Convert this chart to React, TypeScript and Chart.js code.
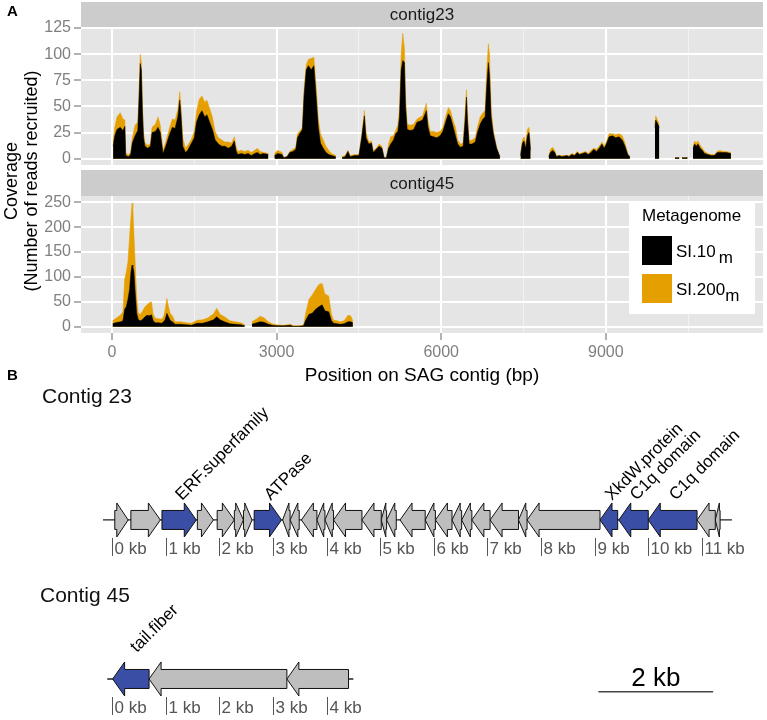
import React, { useEffect, useRef } from "react";
import { Chart, registerables } from "chart.js";

Chart.register(...registerables);

const FONT = "'Liberation Sans', Arial, Helvetica, sans-serif";
const PAGE_W = 767;
const PAGE_H = 720;

// ---------------- Panel A: coverage (bp positions, reads recruited) ----------------
// SI.200m values are stacked on top of SI.10m (stacked area chart). null = no coverage.
const c23Pos = [
  20, 50, 90, 150, 200, 235, 250, 300, 340, 370, 420, 470, 495, 515, 535, 555, 575, 600, 650, 700,
  730, 790, 840, 880, 930, 980, 1040, 1100, 1150, 1200, 1235, 1260, 1290, 1340, 1380, 1440, 1500, 1540, 1590, 1640,
  1690, 1730, 1780, 1830, 1880, 1940, 2000, 2060, 2120, 2180, 2230, 2260, 2290, 2360, 2420, 2480, 2540, 2600, 2650, 2700,
  2760, 2850, 2900,
  2960, 3020, 3100, 3130, 3190, 3240, 3300, 3350, 3380, 3420, 3470, 3500, 3540, 3580, 3630, 3680, 3720, 3760, 3800, 3850,
  3900, 3950, 4000, 4080, 4140,
  4190, 4250, 4300, 4340, 4420, 4500, 4550, 4600, 4630, 4680, 4730, 4760, 4800, 4870, 4920, 4960, 5000,
  5040, 5080, 5130, 5170, 5210, 5240, 5270, 5300, 5330, 5350, 5380, 5440, 5500, 5560, 5620, 5660, 5700, 5730, 5760, 5800,
  5860, 5920, 5980, 6030, 6080, 6130, 6170, 6220, 6260, 6300, 6350, 6400, 6440, 6460, 6480, 6510, 6560, 6620, 6660, 6710,
  6760, 6800, 6830, 6860, 6880, 6910, 6950, 7010, 7070, 7200,
  7445, 7480, 7510, 7540, 7570, 7600, 7630, 7800,
  7960, 7990, 8030, 8070, 8100, 8150, 8200, 8290, 8330, 8380, 8430, 8480, 8520, 8580, 8630, 8680, 8730, 8780, 8830, 8880,
  8930, 8970, 9010, 9060, 9120, 9180, 9240, 9300, 9350, 9400, 9440, 9600,
  9895, 9910, 9950, 9975, 10100,
  10260, 10340, 10365, 10390, 10490, 10540,
  10590, 10620, 10650, 10680, 10720, 10760, 10800, 10860, 10920, 10980, 11030, 11080, 11130, 11190, 11280,
];
const c23SI10 = [
  12, 22, 28, 30, 27, 31, 3, 2, 4, 15, 22, 27, 60, 91, 85, 45, 20, 12, 10, 12,
  25, 26, 30, 25, 5, 12, 22, 30, 29, 40, 56, 40, 12, 6, 8, 14, 20, 35, 42, 46,
  40, 42, 35, 28, 18, 14, 12, 12, 10, 12, 17, 8, 4, 5, 4, 5, 3, 5, 6, 4,
  5, 4, null,
  3, 5, 4, 1, 2, 6, 7, 9, 20, 24, 28, 60, 85, 89, 85, 89, 60, 30, 15, 10,
  6, 4, 3, 2, null,
  1, 2, 7, 2, 3, 3, 20, 41, 20, 14, 15, 6, 8, 12, 10, 1, 1,
  10, 14, 18, 24, 26, 40, 85, 94, 92, 50, 28, 27, 28, 35, 36, 37, 42, 46, 30, 22,
  21, 20, 22, 26, 35, 43, 40, 30, 22, 14, 11, 12, 40, 59, 35, 14, 14, 16, 25, 33,
  38, 40, 70, 92, 80, 40, 24, 10, 2, null,
  3, 15, 17, 10, 22, 25, 8, null,
  2, 6, 8, 6, 2, 3, 2, 3, 2, 4, 3, 6, 4, 5, 6, 4, 6, 9, 7, 10,
  14, 10, 14, 21, 22, 20, 21, 18, 12, 4, 2, null,
  30, 37, 33, 30, null,
  1, 1, null, 1, 1, null,
  10, 14, 12, 14, 10, 8, 5, 4, 3, 3, 6, 6, 6, 6, 5,
];
const c23SI200 = [
  4, 8, 12, 14, 11, 6, 2, 2, 2, 5, 10, 8, 8, 9, 7, 7, 6, 3, 3, 2,
  5, 7, 10, 7, 3, 4, 6, 8, 8, 7, 8, 8, 8, 4, 5, 4, 6, 10, 15, 14,
  14, 14, 13, 12, 8, 6, 6, 4, 6, 3, 4, 4, 3, 3, 3, 3, 3, 3, 4, 3,
  1, 1, null,
  2, 3, 2, 0, 0, 1, 2, 2, 4, 2, 2, 6, 5, 6, 11, 8, 10, 8, 9, 8,
  6, 4, 2, 1, null,
  1, 1, 1, 1, 1, 1, 2, 5, 5, 2, 2, 2, 1, 2, 2, 0, 0,
  4, 7, 4, 3, 6, 8, 15, 26, 13, 10, 5, 5, 5, 3, 4, 4, 6, 7, 6, 4,
  5, 5, 4, 4, 5, 6, 6, 6, 8, 4, 3, 3, 8, 7, 10, 3, 4, 4, 5, 7,
  6, 6, 15, 18, 20, 8, 3, 1, 0, null,
  0, 3, 4, 4, 6, 5, 2, null,
  0, 3, 3, 2, 1, 0, 1, 0, 1, 1, 1, 1, 1, 1, 1, 1, 2, 1, 2, 2,
  2, 2, 2, 3, 2, 3, 3, 4, 3, 1, 0, null,
  3, 4, 3, 3, null,
  0, 0, null, 0, 0, null,
  2, 3, 3, 3, 3, 2, 2, 1, 1, 1, 1, 2, 1, 1, 1,
];

const c45Pos = [
  10, 60, 110, 160, 200, 230, 260, 290, 320, 345, 365, 380, 400, 420, 450, 480, 520, 560, 600, 640,
  680, 720, 750, 790, 850, 900, 940, 970, 1000, 1030, 1060, 1100, 1150, 1250, 1360, 1450, 1550, 1650, 1750, 1850,
  1910, 1970, 2050, 2150, 2250, 2350, 2420, 2480,
  2550, 2640, 2700, 2770, 2850, 2920, 3000, 3130, 3250, 3300, 3400, 3490, 3530, 3590, 3650, 3710, 3770, 3830, 3880, 3950,
  4000, 4040, 4100, 4160, 4230, 4300, 4350, 4390,
];
const c45SI10 = [
  6, 8, 9, 10, 12, 35, 40, 55, 75, 110, 124, 121, 110, 74, 27, 14, 12, 15, 20, 23,
  22, 24, 12, 8, 8, 7, 10, 15, 27, 20, 13, 10, 5, 5, 4, 3, 7, 7, 10, 14,
  20, 14, 10, 6, 5, 4, 2, null,
  5, 8, 10, 9, 5, 3, 2, 2, 3, 1, 1, 2, 13, 25, 27, 35, 40, 44, 32, 30,
  12, 7, 6, 5, 6, 10, 10, 8,
];
const c45SI200 = [
  6, 8, 11, 14, 18, 60, 70, 75, 105, 110, 124, 119, 75, 60, 33, 13, 13, 17, 20, 21,
  26, 26, 13, 9, 8, 8, 10, 20, 30, 20, 14, 12, 5, 5, 4, 4, 6, 7, 8, 12,
  17, 11, 10, 6, 5, 4, 2, null,
  5, 8, 11, 9, 5, 3, 2, 1, 2, 1, 1, 1, 14, 30, 37, 40, 45, 43, 34, 32,
  13, 6, 6, 5, 6, 13, 12, 4,
];

const xTicks = [0, 1500, 3000, 4500, 6000, 7500, 9000, 10500];
const c23YTicks = [0, 12.5, 25, 37.5, 50, 62.5, 75, 87.5, 100, 112.5, 125];
const c45YTicks = [0, 25, 50, 75, 100, 125, 150, 175, 200, 225, 250];
const facetNames = ["contig23", "contig45"];
const legendTitle = "Metagenome";
const seriesNames = ["SI.10", "SI.200"];
const seriesSub = ["m", "m"];

// ---------------- Panel B: gene maps (kb) ----------------
const c23Track = 1;
const c45Track = 0;
const c23Backbone = [-0.17, 11.56];
const c45Backbone = [-0.09, 4.5];
const c23GeneStart = [0.05, 0.35, 0.93, 1.59, 1.96, 2.28, 2.45, 2.65, 3.18, 3.32, 3.53, 3.82, 3.97, 4.13, 4.66, 5.02, 5.12, 5.37, 5.84, 6.03, 6.34, 6.52, 6.71, 7.05, 7.58, 7.74, 9.1, 9.45, 10.0, 10.91, 11.25];
const c23GeneEnd = [0.3, 0.9, 1.57, 1.89, 2.28, 2.45, 2.61, 3.16, 3.32, 3.49, 3.82, 3.97, 4.13, 4.66, 5.02, 5.12, 5.3, 5.84, 6.03, 6.34, 6.52, 6.71, 7.05, 7.58, 7.74, 9.1, 9.43, 10.0, 10.91, 11.25, 11.34];
const c23Strand = [1, 1, 1, 1, 1, 1, 1, 1, -1, -1, -1, -1, -1, -1, -1, -1, -1, -1, -1, -1, -1, -1, -1, -1, -1, -1, -1, -1, -1, -1, -1];
const c23Label = ["", "", "ERF.superfamily", "", "", "", "", "ATPase", "", "", "", "", "", "", "", "", "", "", "", "", "", "", "", "", "", "", "XkdW.protein", "C1q domain", "C1q domain", "", ""];
const c45GeneStart = [0.01, 0.69, 3.26];
const c45GeneEnd = [0.69, 3.26, 4.41];
const c45Strand = [-1, -1, -1];
const c45Label = ["tail.fiber", "", ""];
const c23Kb = [0, 1, 2, 3, 4, 5, 6, 7, 8, 9, 10, 11];
const c45Kb = [0, 1, 2, 3, 4];
const trackTitles = ["Contig 23", "Contig 45"];
const scaleBarKb = [9.07, 11.21];
const scaleBarY = -0.08;
const scaleBarLabel = "2 kb";

const SI10_COLOR = "#000000";
const SI200_COLOR = "#E69F00";
const GENE_BLUE = "#3A4EA6";
const GENE_GREY = "#BEBEBE";
const PANEL_BG = "#E5E5E5";
const STRIP_BG = "#CCCCCC";
const TICK_GREY = "#7F7F7F";

function isMajor(v: number, step: number) {
  return Math.abs(v / step - Math.round(v / step)) < 1e-6;
}

function gridOpts(step: number, showTicks: boolean) {
  return {
    color: (c: any) => (c.tick && isMajor(c.tick.value, step) ? "#FFFFFF" : "#F2F2F2"),
    lineWidth: (c: any) => (c.tick && isMajor(c.tick.value, step) ? 2 : 1),
    tickColor: (c: any) => (showTicks && c.tick && isMajor(c.tick.value, step) ? TICK_GREY : "rgba(0,0,0,0)"),
    tickLength: 7,
    tickWidth: 1.2,
    drawTicks: true,
  };
}

function facetConfig(
  pos: number[], si10: (number | null)[], si200: (number | null)[],
  yTicks: number[], yStep: number, yMin: number, yMax: number,
  padTop: number, padBottom: number, showX: boolean, plugin: any
): any {
  return {
    type: "line",
    data: {
      datasets: [
        {
          label: seriesNames[0] + seriesSub[0],
          data: pos.map((x, i) => ({ x, y: si10[i] })),
          backgroundColor: SI10_COLOR,
          borderColor: SI10_COLOR,
          borderWidth: 0.5,
          pointRadius: 0,
          fill: "origin",
          tension: 0,
          spanGaps: false,
        },
        {
          label: seriesNames[1] + seriesSub[1],
          data: pos.map((x, i) => ({ x, y: si200[i] })),
          backgroundColor: SI200_COLOR,
          borderColor: SI200_COLOR,
          borderWidth: 0.5,
          pointRadius: 0,
          fill: "origin",
          tension: 0,
          spanGaps: false,
        },
      ],
    },
    options: {
      responsive: false,
      animation: false,
      events: [],
      layout: { padding: { top: padTop, bottom: padBottom, left: 0, right: 4 } },
      plugins: { legend: { display: false }, tooltip: { enabled: false } },
      scales: {
        x: {
          type: "linear",
          bounds: "data",
          min: -565,
          max: 11865,
          afterBuildTicks: (s: any) => {
            s.ticks = xTicks.map((v) => ({ value: v }));
          },
          afterFit: (s: any) => {
            s.height = showX ? 60 : 0;
            s.paddingLeft = 0;
            s.paddingRight = 0;
          },
          grid: gridOpts(3000, showX),
          border: { display: false },
          ticks: {
            display: showX,
            autoSkip: false,
            maxRotation: 0,
            padding: 3,
            color: TICK_GREY,
            font: { family: FONT, size: 16 },
            callback: (v: any) => (isMajor(Number(v), 3000) ? String(v) : ""),
          },
          title: {
            display: showX,
            text: "Position on SAG contig (bp)",
            color: "#000000",
            font: { family: FONT, size: 19 },
            padding: { top: 0, bottom: 6 },
          },
        },
        y: {
          type: "linear",
          stacked: true,
          bounds: "data",
          min: yMin,
          max: yMax,
          afterBuildTicks: (s: any) => {
            s.ticks = yTicks.map((v) => ({ value: v }));
          },
          afterFit: (s: any) => {
            s.width = 81;
            s.paddingTop = 0;
            s.paddingBottom = 0;
          },
          grid: gridOpts(yStep, true),
          border: { display: false },
          ticks: {
            padding: 3,
            color: TICK_GREY,
            font: { family: FONT, size: 16 },
            callback: (v: any) => (isMajor(Number(v), yStep) ? String(v) : ""),
          },
        },
      },
    },
    plugins: [plugin],
  };
}

function stripPlugin(text: string, stripTop: number, extra?: (chart: any) => void) {
  return {
    id: "facetStrip",
    beforeDraw(chart: any) {
      const { ctx, chartArea: a } = chart;
      ctx.save();
      ctx.fillStyle = PANEL_BG;
      ctx.fillRect(a.left, a.top, a.right - a.left, a.bottom - a.top);
      ctx.fillStyle = STRIP_BG;
      ctx.fillRect(a.left, stripTop, a.right - a.left, a.top - stripTop);
      ctx.fillStyle = "#1A1A1A";
      ctx.font = `17px ${FONT}`;
      ctx.textAlign = "center";
      ctx.textBaseline = "middle";
      ctx.fillText(text, (a.left + a.right) / 2, (stripTop + a.top) / 2 + 1);
      ctx.restore();
    },
    afterDraw(chart: any) {
      if (extra) extra(chart);
    },
  };
}

function drawPanelALabel(chart: any) {
  const ctx = chart.ctx;
  ctx.save();
  ctx.fillStyle = "#000";
  ctx.font = `bold 15px ${FONT}`;
  ctx.textAlign = "left";
  ctx.textBaseline = "alphabetic";
  ctx.fillText("A", 7, 16);
  ctx.restore();
}

function drawLegendAndTitle(chart: any) {
  const ctx = chart.ctx;
  ctx.save();
  // y axis title spanning both facets
  ctx.fillStyle = "#000";
  ctx.font = `18px ${FONT}`;
  ctx.textAlign = "center";
  ctx.textBaseline = "alphabetic";
  ctx.translate(17, 181);
  ctx.rotate(-Math.PI / 2);
  ctx.fillText("Coverage", 0, 0);
  ctx.fillText("(Number of reads recruited)", 0, 20);
  ctx.restore();

  ctx.save();
  ctx.fillStyle = "#FFFFFF";
  ctx.fillRect(629, 203, 126, 111);
  ctx.fillStyle = "#000";
  ctx.font = `17px ${FONT}`;
  ctx.textAlign = "left";
  ctx.textBaseline = "alphabetic";
  ctx.fillText(legendTitle, 642, 221);
  const colors = [SI10_COLOR, SI200_COLOR];
  const keyTops = [236, 274];
  const gaps = [3, 0];
  for (let i = 0; i < seriesNames.length; i++) {
    ctx.fillStyle = colors[i];
    ctx.fillRect(642, keyTops[i], 30, 29);
    ctx.fillStyle = "#000";
    ctx.font = `17px ${FONT}`;
    const base = keyTops[i] + 21;
    ctx.fillText(seriesNames[i], 676, base);
    const w = ctx.measureText(seriesNames[i]).width;
    ctx.fillText(seriesSub[i], 676 + w + gaps[i], base + 6);
  }
  ctx.restore();
}

function drawGene(ctx: any, x1: number, x2: number, cy: number, strand: number, color: string) {
  const len = x2 - x1;
  const head = Math.min(12, len * 0.85);
  const bh = 9.5;
  const hh = 17;
  ctx.beginPath();
  if (strand > 0) {
    const hb = x2 - head;
    ctx.moveTo(x1, cy - bh);
    ctx.lineTo(hb, cy - bh);
    ctx.lineTo(hb, cy - hh);
    ctx.lineTo(x2, cy);
    ctx.lineTo(hb, cy + hh);
    ctx.lineTo(hb, cy + bh);
    ctx.lineTo(x1, cy + bh);
  } else {
    const hb = x1 + head;
    ctx.moveTo(x2, cy - bh);
    ctx.lineTo(hb, cy - bh);
    ctx.lineTo(hb, cy - hh);
    ctx.lineTo(x1, cy);
    ctx.lineTo(hb, cy + hh);
    ctx.lineTo(hb, cy + bh);
    ctx.lineTo(x2, cy + bh);
  }
  ctx.closePath();
  ctx.fillStyle = color;
  ctx.fill();
  ctx.lineWidth = 1;
  ctx.strokeStyle = "#111";
  ctx.stroke();
}

const genePlugin = {
  id: "genes",
  afterDatasetsDraw(chart: any) {
    const { ctx } = chart;
    const x = chart.scales.x;
    const y = chart.scales.y;
    const tracks = [
      { cy: y.getPixelForValue(c23Track), s: c23GeneStart, e: c23GeneEnd, st: c23Strand, lb: c23Label, kb: c23Kb, ldx: 3, ldy: -19 },
      { cy: y.getPixelForValue(c45Track), s: c45GeneStart, e: c45GeneEnd, st: c45Strand, lb: c45Label, kb: c45Kb, ldx: 6, ldy: -26 },
    ];
    ctx.save();
    for (const t of tracks) {
      ctx.strokeStyle = "#555";
      ctx.lineWidth = 1;
      ctx.fillStyle = "#555";
      ctx.font = `17px ${FONT}`;
      ctx.textAlign = "left";
      ctx.textBaseline = "middle";
      for (const k of t.kb) {
        const px = Math.round(x.getPixelForValue(k)) + 0.5;
        ctx.beginPath();
        ctx.moveTo(px, t.cy + 18);
        ctx.lineTo(px, t.cy + 36);
        ctx.stroke();
        ctx.fillText(`${k} kb`, px + 2, t.cy + 29);
      }
      for (let i = 0; i < t.s.length; i++) {
        const x1 = x.getPixelForValue(t.s[i]);
        const x2 = x.getPixelForValue(t.e[i]);
        drawGene(ctx, x1, x2, t.cy, t.st[i], t.lb[i] ? GENE_BLUE : GENE_GREY);
      }
      ctx.fillStyle = "#000";
      ctx.font = `17px ${FONT}`;
      ctx.textAlign = "left";
      ctx.textBaseline = "alphabetic";
      for (let i = 0; i < t.s.length; i++) {
        if (!t.lb[i]) continue;
        const cx = (x.getPixelForValue(t.s[i]) + x.getPixelForValue(t.e[i])) / 2;
        ctx.save();
        ctx.translate(cx + t.ldx, t.cy + t.ldy);
        ctx.rotate(-Math.PI / 4);
        ctx.fillText(t.lb[i], 0, 0);
        ctx.restore();
      }
    }
    // titles
    ctx.fillStyle = "#111";
    ctx.font = `21px ${FONT}`;
    ctx.textAlign = "left";
    ctx.textBaseline = "alphabetic";
    ctx.fillText(trackTitles[0], 42, 403);
    ctx.fillText(trackTitles[1], 40, 602);
    ctx.font = `bold 15px ${FONT}`;
    ctx.fillStyle = "#000";
    ctx.fillText("B", 7, 380);
    // scale bar label
    const sx = (x.getPixelForValue(scaleBarKb[0]) + x.getPixelForValue(scaleBarKb[1])) / 2;
    ctx.font = `26px ${FONT}`;
    ctx.textAlign = "center";
    ctx.fillText(scaleBarLabel, sx, y.getPixelForValue(scaleBarY) - 6);
    ctx.restore();
  },
};

const configB: any = {
  type: "line",
  data: {
    datasets: [
      { data: c23Backbone.map((v) => ({ x: v, y: c23Track })), borderColor: "#222", borderWidth: 1.3, pointRadius: 0, fill: false },
      { data: c45Backbone.map((v) => ({ x: v, y: c45Track })), borderColor: "#222", borderWidth: 1.3, pointRadius: 0, fill: false },
      { data: scaleBarKb.map((v) => ({ x: v, y: scaleBarY })), borderColor: "#444", borderWidth: 1.6, pointRadius: 0, fill: false },
    ],
  },
  options: {
    responsive: false,
    animation: false,
    events: [],
    layout: { padding: { top: 0, bottom: 0, left: 81, right: 4 } },
    plugins: { legend: { display: false }, tooltip: { enabled: false } },
    scales: {
      x: { type: "linear", display: false, min: -0.58, max: 12.14 },
      y: { type: "linear", display: false, min: -0.258, max: 4.27 },
    },
  },
  plugins: [genePlugin],
};

export default function App() {
  const refA1 = useRef<HTMLCanvasElement>(null);
  const refA2 = useRef<HTMLCanvasElement>(null);
  const refB = useRef<HTMLCanvasElement>(null);

  useEffect(() => {
    const cfgA1 = facetConfig(c23Pos, c23SI10, c23SI200, c23YTicks, 25, -6, 126, 27, PAGE_H - 165, false,
      stripPlugin(facetNames[0], 2, drawPanelALabel));
    const cfgA2 = facetConfig(c45Pos, c45SI10, c45SI200, c45YTicks, 50, -12.5, 262.5, 196, PAGE_H - 333 - 60, true,
      stripPlugin(facetNames[1], 170, drawLegendAndTitle));
    const charts = [
      new Chart(refA2.current as HTMLCanvasElement, cfgA2),
      new Chart(refA1.current as HTMLCanvasElement, cfgA1),
      new Chart(refB.current as HTMLCanvasElement, configB),
    ];
    return () => charts.forEach((c) => c.destroy());
  }, []);

  const cs: any = { position: "absolute", left: 0, top: 0, width: PAGE_W, height: PAGE_H };
  return (
    <div style={{ position: "absolute", left: 0, top: 0, width: PAGE_W, height: PAGE_H, background: "#fff" }}>
      <canvas ref={refA2} width={PAGE_W} height={PAGE_H} style={cs} />
      <canvas ref={refA1} width={PAGE_W} height={PAGE_H} style={cs} />
      <canvas ref={refB} width={PAGE_W} height={PAGE_H} style={cs} />
    </div>
  );
}
